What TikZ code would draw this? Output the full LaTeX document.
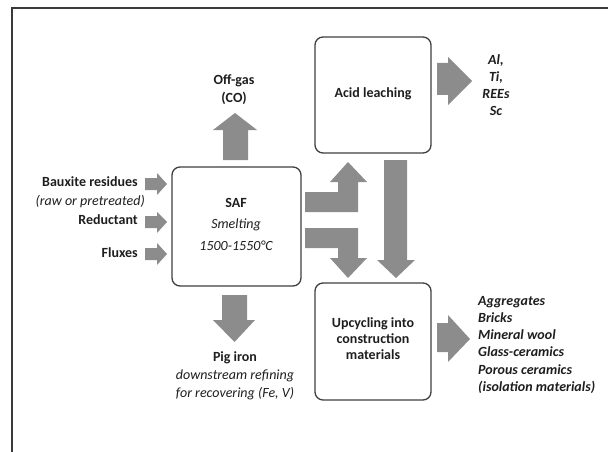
\documentclass[tikz,border=0pt]{standalone}
\usepackage{fontspec}
\setmainfont{Carlito}
\definecolor{arrowgray}{HTML}{8C8C8C}
\definecolor{boxline}{HTML}{3F3F3F}
\definecolor{txt}{HTML}{1E1E1E}
\definecolor{framegray}{HTML}{3A3A3A}
\begin{document}
\begin{tikzpicture}[x=1pt,y=-1pt,
  procbox/.style={draw=boxline,line width=1.3pt,rounded corners=8pt},
  blockarrow/.style={fill=arrowgray,draw=none},
  lbl/.style={text=txt,inner sep=0pt,font=\fontsize{14}{17}\selectfont},
  bl/.style={lbl,font=\fontsize{14}{17}\selectfont\bfseries},
  it/.style={lbl,font=\fontsize{14}{17}\selectfont\itshape},
  bi/.style={lbl,font=\fontsize{14}{17}\selectfont\bfseries\itshape}]
\useasboundingbox (0,0) rectangle (608,452);
% frame
\draw[framegray,line width=1.5pt] (12,452) -- (12,8) -- (608,8);
% boxes
\draw[procbox] (172,167) rectangle (301,286);
\draw[procbox] (315,37) rectangle (431,153);
\draw[procbox] (315,283) rectangle (431,400);
\node (saf) at (236.5,226.5) {};
\node (acid) at (373,95) {};
\node (upc) at (373,341.5) {};
% box texts
\node[bl,anchor=mid] (safT) at (236,205) {SAF};
\node[it,anchor=mid] (safS) at (236,226) {Smelting};
\node[it,anchor=mid] (safR) at (236,248) {1500-1550°C};
\node[bl,anchor=mid] (acidT) at (373,95) {Acid leaching};
\node[bl,anchor=mid] (upc1) at (373,325) {Upcycling into};
\node[bl,anchor=mid] (upc2) at (373,341) {construction};
\node[bl,anchor=mid] (upc3) at (373,357) {materials};
% inputs
\node[bl,anchor=mid east] (bx) at (138,184) {Bauxite residues};
\node[it,anchor=mid east] (raw) at (145,203) {(raw or pretreated)};
\node[bl,anchor=mid east] (red) at (138,222) {Reductant};
\node[bl,anchor=mid east] (flx) at (138,255) {Fluxes};
% off-gas
\node[bl,anchor=mid] (off1) at (234,82) {Off-gas};
\node[bl,anchor=mid] (off2) at (234,100) {(CO)};
% pig iron
\node[bl,anchor=mid] (pig1) at (235,359) {Pig iron};
\node[it,anchor=mid] (pig2) at (235,377) {downstream refining};
\node[it,anchor=mid] (pig3) at (235,395) {for recovering (Fe, V)};
% metals
\node[bi,anchor=mid] (m1) at (496,62) {Al,};
\node[bi,anchor=mid] (m2) at (496,79) {Ti,};
\node[bi,anchor=mid] (m3) at (496,96) {REEs};
\node[bi,anchor=mid] (m4) at (496,113) {Sc};
% products
\node[bi,anchor=mid west] (p1) at (478,303) {Aggregates};
\node[bi,anchor=mid west] (p2) at (478,320) {Bricks};
\node[bi,anchor=mid west] (p3) at (478,337) {Mineral wool};
\node[bi,anchor=mid west] (p4) at (478,354) {Glass-ceramics};
\node[bi,anchor=mid west] (p5) at (478,372) {Porous ceramics};
\node[bi,anchor=mid west] (p6) at (478,389) {(isolation materials)};
% input arrows
\fill[blockarrow] (145,178) -- (157,178) -- (157,173) -- (167,184) -- (157,195) -- (157,190) -- (145,190) -- cycle;
\fill[blockarrow] (145,216) -- (157,216) -- (157,212) -- (167,222) -- (157,233) -- (157,228) -- (145,228) -- cycle;
\fill[blockarrow] (145,248) -- (157,248) -- (157,243) -- (167,254) -- (157,265) -- (157,260) -- (145,260) -- cycle;
% off-gas arrow (up)
\fill[blockarrow] (223,160) -- (223,130) -- (213,130) -- (235,113) -- (257,130) -- (248,130) -- (248,160) -- cycle;
% pig iron arrow (down)
\fill[blockarrow] (222,295) -- (247,295) -- (247,320) -- (255,320) -- (234.5,342) -- (213,320) -- (222,320) -- cycle;
% L arrow up to acid leaching
\fill[blockarrow] (305,192) -- (338,192) -- (338,182) -- (330,182) -- (348,162) -- (367,182) -- (358,182) -- (358,212) -- (305,212) -- cycle;
% L arrow down to upcycling
\fill[blockarrow] (305,228) -- (358,228) -- (358,258) -- (367,258) -- (348,278) -- (330,258) -- (338,258) -- (338,248) -- (305,248) -- cycle;
% acid -> upcycling
\fill[blockarrow] (384,160) -- (407,160) -- (407,260) -- (415,260) -- (396,278) -- (377,260) -- (384,260) -- cycle;
% acid -> metals
\fill[blockarrow] (437,63) -- (448,63) -- (448,57) -- (472,81) -- (448,105) -- (448,95) -- (437,95) -- cycle;
% upcycling -> products
\fill[blockarrow] (437,323) -- (448,323) -- (448,315) -- (470,339) -- (448,362) -- (448,352) -- (437,352) -- cycle;
\end{tikzpicture}
\end{document}
